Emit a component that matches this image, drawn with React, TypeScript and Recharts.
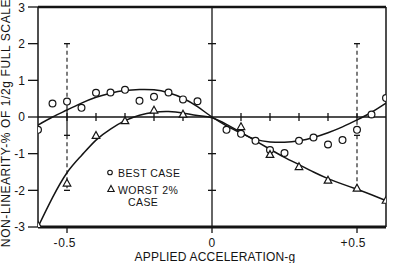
import React from "react";
import {
  ComposedChart,
  XAxis,
  YAxis,
  Scatter,
  Line,
  ReferenceLine,
  Legend,
} from "recharts";

// ---------- data ----------
const bestCaseX = [-0.6, -0.55, -0.5, -0.45, -0.4, -0.35, -0.3, -0.25, -0.2, -0.15, -0.1, -0.05, 0.05, 0.1, 0.15, 0.2, 0.25, 0.3, 0.35, 0.4, 0.45, 0.5, 0.55, 0.6];
const bestCaseY = [-0.35, 0.37, 0.42, 0.25, 0.66, 0.67, 0.74, 0.44, 0.55, 0.67, 0.48, 0.43, -0.35, -0.46, -0.65, -0.9, -0.98, -0.65, -0.56, -0.75, -0.63, -0.35, 0.07, 0.52];

const worstCaseX = [-0.6, -0.5, -0.4, -0.3, -0.2, -0.1, 0.1, 0.2, 0.3, 0.4, 0.5, 0.6];
const worstCaseY = [-2.95, -1.8, -0.5, -0.1, 0.19, 0.08, -0.26, -1.02, -1.35, -1.72, -1.94, -2.27];

const curveX = [-0.6, -0.55, -0.5, -0.45, -0.4, -0.35, -0.3, -0.25, -0.2, -0.15, -0.1, -0.05, 0, 0.05, 0.1, 0.15, 0.2, 0.25, 0.3, 0.35, 0.4, 0.45, 0.5, 0.55, 0.6];
const bestFitY = [-0.22, 0.0, 0.19, 0.38, 0.54, 0.65, 0.72, 0.75, 0.74, 0.66, 0.51, 0.28, 0.0, -0.24, -0.44, -0.61, -0.68, -0.69, -0.65, -0.56, -0.43, -0.27, -0.08, 0.13, 0.38];
const worstFitY = [-3.0, -2.2, -1.52, -1.05, -0.63, -0.33, -0.1, 0.05, 0.13, 0.15, 0.11, 0.04, -0.02, -0.2, -0.42, -0.65, -0.88, -1.1, -1.3, -1.5, -1.68, -1.83, -1.97, -2.12, -2.28];

// error bars
const errorBarX = [-0.5, -0.5, -0.5, 0.5, 0.5];
const errorDashedFrom = [2, -0.5, null, 2, -0.5];
const errorDashedTo = [0.42, -2, null, -0.35, -1.94];
const errorSolidFrom = [null, null, 0.42, null, null];
const errorSolidTo = [null, null, -0.5, null, null];
const errorCapX = [-0.5, -0.5, -0.5, 0.5, 0.5];
const errorCapY = [2, -0.5, -2, 2, -0.5];

// axes
const yTicks = [-3, -2, -1, 0, 1, 2, 3];
const xTickValues = [-0.5, 0, 0.5];
const xTickLabels = ["-0.5", "0", "+0.5"];
const zeroLineTicksX = [-0.5, -0.4, -0.3, -0.2, -0.1, 0.1, 0.2, 0.3, 0.4, 0.5];
const zeroLineTicksY = [-2, -1, 1, 2];

const xLabel = "APPLIED ACCELERATION-g";
const yLabel = "NON-LINEARITY-% OF 1/2g FULL SCALE";
const legendBest = "BEST CASE";
const legendWorst1 = "WORST 2%";
const legendWorst2 = "CASE";

// ---------- derived tables ----------
const bestPoints = bestCaseX.map((x, i) => ({ x, y: bestCaseY[i] }));
const worstPoints = worstCaseX.map((x, i) => ({ x, y: worstCaseY[i] }));
const bestCurve = curveX.map((x, i) => ({ x, y: bestFitY[i] }));
const worstCurve = curveX.map((x, i) => ({ x, y: worstFitY[i] }));
const capPoints = errorCapX.map((x, i) => ({ x, y: errorCapY[i] }));
const zeroTickPtsX = zeroLineTicksX.map((x) => ({ x, y: 0 }));
const zeroTickPtsY = zeroLineTicksY.map((y) => ({ x: 0, y }));

const INK = "#141414";
const FONT = "'Liberation Sans', Arial, sans-serif";

const CircleMark = (p: any) => (
  <circle cx={p.cx} cy={p.cy} r={3.4} fill="#fff" stroke={INK} strokeWidth={1.2} />
);
const TriMark = (p: any) => {
  const s = 3.8;
  return (
    <path
      d={`M${p.cx},${p.cy - s} L${p.cx + s},${p.cy + s * 0.8} L${p.cx - s},${p.cy + s * 0.8} Z`}
      fill="#fff"
      stroke={INK}
      strokeWidth={1.2}
    />
  );
};
const VTick = (p: any) => (
  <line x1={p.cx} x2={p.cx} y1={p.cy - 4} y2={p.cy + 4} stroke={INK} strokeWidth={1.3} />
);
const HTick = (p: any) => (
  <line x1={p.cx - 4} x2={p.cx + 4} y1={p.cy} y2={p.cy} stroke={INK} strokeWidth={1.3} />
);
const Cap = (p: any) => (
  <line x1={p.cx - 3} x2={p.cx + 3} y1={p.cy} y2={p.cy} stroke={INK} strokeWidth={1.3} />
);

const XTick = (p: any) => {
  const { x, y, payload } = p;
  const idx = xTickValues.indexOf(payload.value);
  const label = idx >= 0 ? xTickLabels[idx] : String(payload.value);
  const hasSign = label[0] === "-" || label[0] === "+";
  const num = hasSign ? label.slice(1) : label;
  return (
    <g fontFamily={FONT} fontSize={12} fill={INK}>
      <text x={x} y={y} dy="0.71em" textAnchor="middle" letterSpacing={0.3}>
        {num}
      </text>
      {hasSign && (
        <text x={x - 9.5} y={y} dy="0.71em" textAnchor="end">
          {label[0]}
        </text>
      )}
    </g>
  );
};

const YLabel = () => (
  <text
    x={10}
    y={123}
    transform="rotate(-90 10 123)"
    textAnchor="middle"
    fontFamily={FONT}
    fontSize={12}
    letterSpacing={0.6}
    fill={INK}
  >
    {yLabel}
  </text>
);

const XLabel = () => (
  <text
    x={215}
    y={261}
    textAnchor="middle"
    fontFamily={FONT}
    fontSize={12}
    letterSpacing={0.2}
    fill={INK}
  >
    {xLabel}
  </text>
);

const LegendBox = () => (
  <svg width={100} height={50} style={{ display: "block" }}>
    <g fontFamily={FONT} fontSize={10.5} fill={INK} letterSpacing={0.4}>
      <circle cx={10} cy={12.5} r={2.3} fill="#fff" stroke={INK} strokeWidth={1.1} />
      <text x={18} y={17}>{legendBest}</text>
      <path d="M11,25.5 L14.2,31.5 L7.8,31.5 Z" fill="#fff" stroke={INK} strokeWidth={1.1} />
      <text x={18} y={33.5}>{legendWorst1}</text>
      <text x={28} y={45.5}>{legendWorst2}</text>
    </g>
  </svg>
);

export default function App() {
  return (
    <div style={{ position: "absolute", left: 0, top: 0, width: 394, height: 263, background: "#fff" }}>
      <ComposedChart width={394} height={263} margin={{ top: 7, right: 8, bottom: 0, left: 0 }}>
        <XAxis
          type="number"
          dataKey="x"
          domain={[-0.6, 0.6]}
          allowDataOverflow
          ticks={xTickValues}
          tick={<XTick />}
          tickSize={6}
          tickMargin={5}
          height={36}
          axisLine={{ stroke: INK, strokeWidth: 3 }}
          tickLine={{ stroke: INK, strokeWidth: 1.3 }}
          label={XLabel}
        />
        <YAxis
          type="number"
          dataKey="y"
          domain={[-3, 3]}
          allowDataOverflow
          ticks={yTicks}
          width={38}
          tickSize={10}
          tickMargin={3}
          tick={{ fill: INK, fontSize: 12, fontFamily: FONT }}
          axisLine={{ stroke: INK, strokeWidth: 1.5 }}
          tickLine={{ stroke: INK, strokeWidth: 1.3 }}
          label={YLabel}
        />
        <ReferenceLine y={3} stroke={INK} strokeWidth={2.5} />
        <ReferenceLine x={0.6} stroke={INK} strokeWidth={1.5} />
        <ReferenceLine y={0} stroke={INK} strokeWidth={1.3} />
        <ReferenceLine x={0} stroke={INK} strokeWidth={1.3} />

        {errorBarX.map((x, i) =>
          errorDashedFrom[i] !== null ? (
            <ReferenceLine
              key={`ed${i}`}
              segment={[{ x, y: errorDashedFrom[i] as number }, { x, y: errorDashedTo[i] as number }]}
              stroke={INK}
              strokeWidth={1.1}
              strokeDasharray="4 3"
            />
          ) : null
        )}
        {errorBarX.map((x, i) =>
          errorSolidFrom[i] !== null ? (
            <ReferenceLine
              key={`es${i}`}
              segment={[{ x, y: errorSolidFrom[i] as number }, { x, y: errorSolidTo[i] as number }]}
              stroke={INK}
              strokeWidth={1.2}
            />
          ) : null
        )}

        <Scatter data={zeroTickPtsX} dataKey="y" shape={VTick} isAnimationActive={false} />
        <Scatter data={zeroTickPtsY} dataKey="y" shape={HTick} isAnimationActive={false} />
        <Scatter data={capPoints} dataKey="y" shape={Cap} isAnimationActive={false} />

        <Line data={bestCurve} dataKey="y" type="natural" stroke={INK} strokeWidth={1.5} dot={false} isAnimationActive={false} />
        <Line data={worstCurve} dataKey="y" type="natural" stroke={INK} strokeWidth={1.5} dot={false} isAnimationActive={false} />

        <Scatter data={bestPoints} dataKey="y" shape={CircleMark} isAnimationActive={false} />
        <Scatter data={worstPoints} dataKey="y" shape={TriMark} isAnimationActive={false} />

        <Legend
          layout="vertical"
          align="center"
          verticalAlign="middle"
          wrapperStyle={{ left: 100, top: 160, width: 100, height: 50 }}
          content={() => <LegendBox />}
        />
      </ComposedChart>
    </div>
  );
}
